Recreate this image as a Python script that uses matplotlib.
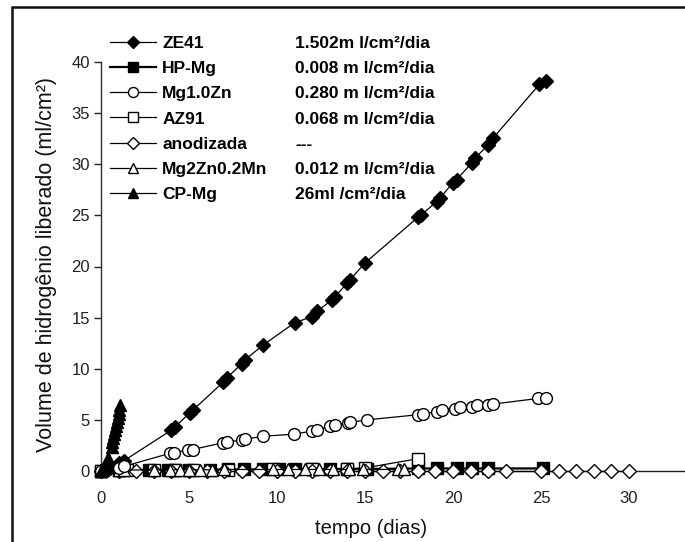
import matplotlib
matplotlib.use("Agg")
import matplotlib.pyplot as plt
from matplotlib.patches import Rectangle
from matplotlib.lines import Line2D

plt.rcParams['font.family'] = ['Liberation Sans', 'DejaVu Sans']

# ---------------- data ----------------
series_names = ["ZE41", "HP-Mg", "Mg1.0Zn", "AZ91", "anodizada", "Mg2Zn0.2Mn", "CP-Mg"]
rates = ["1.502m l/cm²/dia", "0.008 m l/cm²/dia", "0.280 m l/cm²/dia",
         "0.068 m l/cm²/dia", "---", "0.012 m l/cm²/dia", "26ml /cm²/dia"]

ze41_x = [0, 0.5, 1.0, 1.3, 4.0, 4.2, 5.05, 5.25, 6.95, 7.15, 8.0, 8.2, 9.2, 11.0, 12.0,
          12.25, 13.1, 13.3, 14.0, 14.15, 15.0, 18.0, 18.2, 19.07, 19.26, 20.0, 20.2,
          21.06, 21.25, 22.0, 22.3, 24.9, 25.3]
ze41_y = [0, 0.3, 0.8, 1.0, 4.0, 4.3, 5.7, 6.0, 8.7, 9.1, 10.5, 10.9, 12.3, 14.5, 15.1,
          15.6, 16.7, 17.05, 18.4, 18.7, 20.35, 24.8, 25.05, 26.35, 26.7, 28.2, 28.5,
          30.1, 30.6, 31.9, 32.6, 37.8, 38.1]

hpmg_x = [0, 1.0, 2.7, 3.8, 4.2, 5.0, 6.2, 7.2, 8.1, 9.2, 10.1, 11.0, 12.0, 13.0, 14.0,
          15.1, 18.0, 19.1, 20.2, 21.1, 22.0, 25.1]
hpmg_y = [0, 0.05, 0.1, 0.1, 0.1, 0.12, 0.12, 0.15, 0.15, 0.15, 0.15, 0.18, 0.18, 0.2,
          0.2, 0.2, 0.25, 0.25, 0.25, 0.25, 0.25, 0.25]

mg1zn_x = [0, 1.0, 1.3, 3.92, 4.15, 4.96, 5.2, 6.95, 7.14, 8.0, 8.18, 9.2, 10.97, 11.97,
           12.25, 13.0, 13.3, 14.05, 14.15, 15.1, 18.0, 18.3, 19.07, 19.35, 20.1, 20.4,
           21.06, 21.35, 22.0, 22.3, 24.85, 25.3]
mg1zn_y = [0, 0.3, 0.45, 1.73, 1.8, 2.05, 2.1, 2.77, 2.87, 3.0, 3.1, 3.4, 3.6, 3.9,
           3.97, 4.4, 4.5, 4.65, 4.75, 5.0, 5.5, 5.6, 5.8, 6.0, 6.1, 6.3,
           6.3, 6.45, 6.5, 6.55, 7.1, 7.1]

az91_x = [0, 1.0, 1.5, 3.0, 4.2, 5.2, 7.2, 9.8, 12.0, 14.0, 15.0, 18.0]
az91_y = [0, 0.05, 0.05, 0.08, 0.1, 0.1, 0.12, 0.15, 0.2, 0.22, 0.3, 1.2]

anod_x = [0, 1, 2, 3, 4, 5, 6, 7, 8, 9, 10, 11, 12, 13, 14, 15, 16, 17, 18, 19, 20, 21,
          22, 23, 25, 26, 27, 28, 29, 30]
anod_y = [0] * len(anod_x)

mn_x = [0, 1.0, 1.3, 3.0, 3.9, 4.5, 5.0, 5.6, 6.3, 7.0, 9.8, 10.6, 11.6, 12.4, 13.2,
        14.1, 14.9, 16.9, 17.2]
mn_y = [0, 0.1, 0.1, 0.1, 0.12, 0.12, 0.12, 0.12, 0.12, 0.15, 0.15, 0.15, 0.15, 0.15,
        0.15, 0.15, 0.15, 0.15, 0.15]

cpmg_x = [0, 0.1, 0.2, 0.3, 0.4, 0.6, 0.65, 0.7, 0.75, 0.8, 0.85, 0.9, 0.95, 1.0, 1.05, 1.1]
cpmg_y = [0, 0.1, 0.4, 0.8, 1.3, 2.3, 2.8, 3.2, 3.6, 4.0, 4.4, 4.8, 5.2, 5.6, 6.0, 6.5]

x_ticks = [0, 5, 10, 15, 20, 25, 30]
y_ticks = [0, 5, 10, 15, 20, 25, 30, 35, 40]
x_label = "tempo (dias)"
y_label = "Volume de hidrogênio liberado (ml/cm²)"

# ---------------- figure ----------------
W, H = 685, 542
fig = plt.figure(figsize=(W / 100, H / 100), dpi=100)
fig.patch.set_facecolor("white")

# surrounding frame (clipped by the image at right/bottom)
fig.patches.append(Rectangle((12 / W, -0.2), 1.5, 1.2 - 7 / H, transform=fig.transFigure,
                             fill=False, edgecolor="#111111", linewidth=1.8))

ax_left, ax_right = 101, 684
ax_top, ax_bot = 62, 471
ax = fig.add_axes([ax_left / W, 1 - ax_bot / H, (ax_right - ax_left) / W, (ax_bot - ax_top) / H])
ax.set_xlim(0, (ax_right - ax_left) / 17.6)
ax.set_ylim(0, 40)

lw = 0.9
common = dict(color="black", linewidth=lw, clip_on=False, markeredgecolor="black",
              markeredgewidth=1.0)
h = []
h.append(ax.plot(ze41_x, ze41_y, marker="D", ms=7.5, markerfacecolor="black", zorder=5, **common)[0])
h.append(ax.plot(hpmg_x, hpmg_y, marker="s", ms=8, markerfacecolor="black", zorder=4,
                 color="black", linewidth=1.6, clip_on=False, markeredgecolor="black")[0])
h.append(ax.plot(mg1zn_x, mg1zn_y, marker="o", ms=8.5, markerfacecolor="white", zorder=5, **common)[0])
h.append(ax.plot(az91_x, az91_y, marker="s", ms=8, markerfacecolor="white", zorder=4, **common)[0])
h.append(ax.plot(anod_x, anod_y, marker="D", ms=7, markerfacecolor="white", zorder=4, **common)[0])
h.append(ax.plot(mn_x, mn_y, marker="^", ms=9, markerfacecolor="white", zorder=4, **common)[0])
h.append(ax.plot(cpmg_x, cpmg_y, marker="^", ms=9, markerfacecolor="black", zorder=6, **common)[0])

# axes styling
for s in ["top", "right"]:
    ax.spines[s].set_visible(False)
ax.spines["left"].set_color("#333333")
ax.spines["bottom"].set_color("#222222")
ax.spines["left"].set_linewidth(1.0)
ax.spines["bottom"].set_linewidth(1.0)
ax.set_xticks(x_ticks)
ax.set_yticks(y_ticks)
ax.tick_params(axis="y", direction="out", length=5, width=1, pad=3, labelsize=12,
               colors="#222222")
ax.tick_params(axis="x", direction="out", length=4.5, width=1, pad=10, labelsize=12,
               colors="#222222")
ax.set_xlabel(x_label, fontsize=14.5, color="#111111")
ax.xaxis.set_label_coords((371 - ax_left) / (ax_right - ax_left), (ax_bot - 538) / (ax_bot - ax_top),
                          transform=ax.transAxes)
ax.xaxis.label.set_va("bottom")
ax.set_ylabel(y_label, fontsize=15.5, color="#111111")
ax.yaxis.set_label_coords((47 - ax_left) / (ax_right - ax_left), (ax_bot - 264) / (ax_bot - ax_top))
ax.yaxis.label.set_va("center")

# legend (labels) + rates column
leg_kw = dict(frameon=False, labelspacing=0.575, borderpad=0, borderaxespad=0,
              prop={"weight": "bold", "size": 12.5})
leg1 = fig.legend(h, series_names, loc="upper left", markerscale=0.85,
                  bbox_to_anchor=(110 / W, 1 - 36 / H), handlelength=2.65, handletextpad=0.35,
                  **leg_kw)
blank = [Line2D([], [], linestyle="none") for _ in rates]
leg2 = fig.legend(blank, rates, loc="upper left",
                  bbox_to_anchor=(295 / W, 1 - 36 / H), handlelength=0, handletextpad=0,
                  **leg_kw)

fig.savefig("out.png", dpi=100)
